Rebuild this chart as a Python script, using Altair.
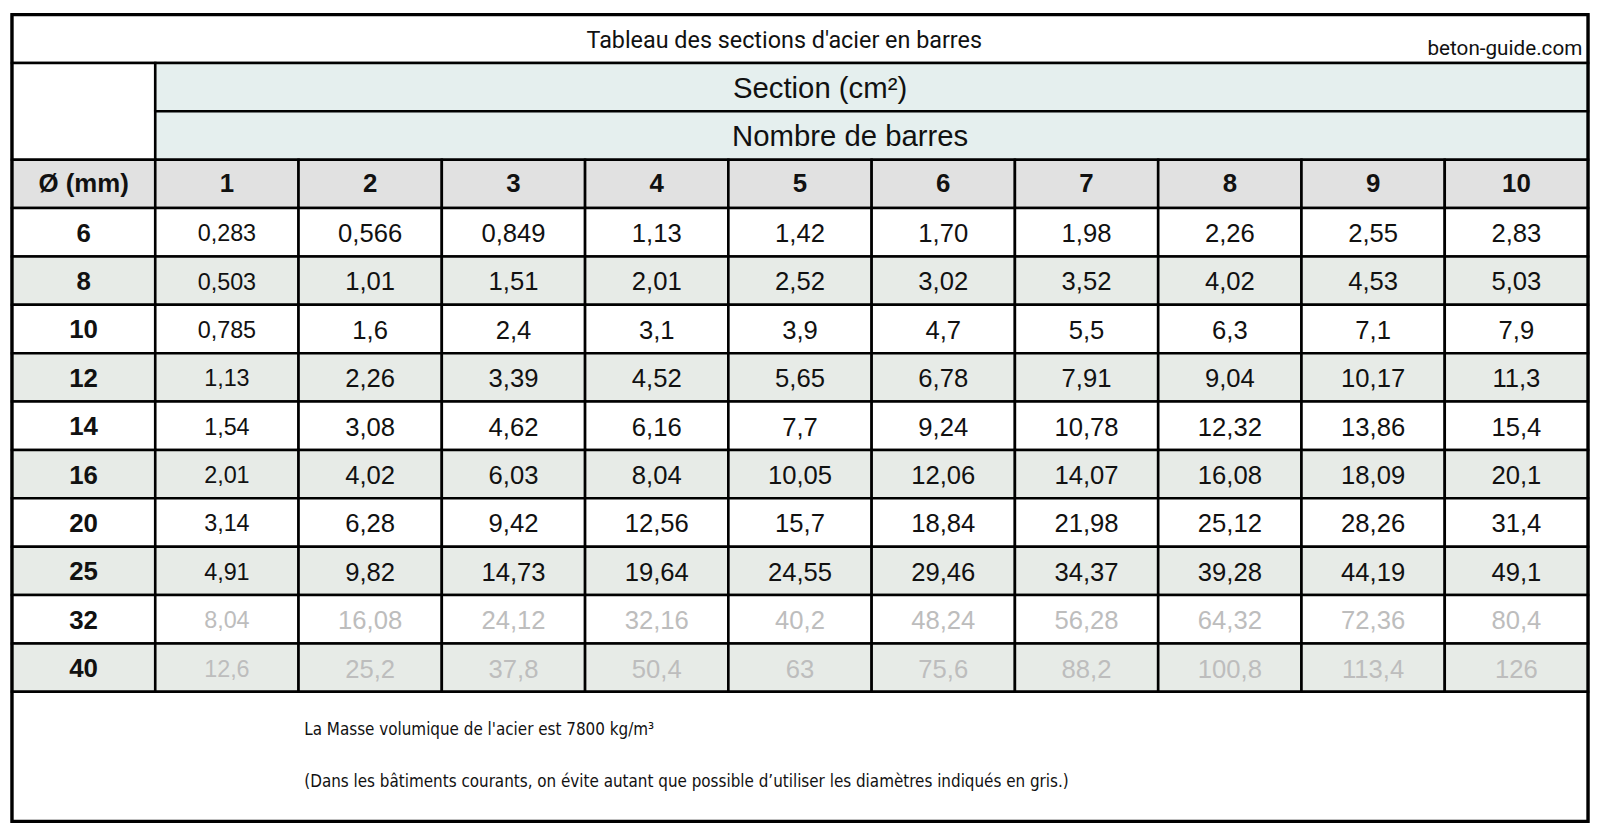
import altair as alt
import pandas as pd

# ---------------- data ----------------
title = "Tableau des sections d'acier en barres"
site = "beton-guide.com"
section_label = "Section (cm²)"
nombre_label = "Nombre de barres"
diam_header = "Ø (mm)"
counts = ["1", "2", "3", "4", "5", "6", "7", "8", "9", "10"]
diameters = ["6", "8", "10", "12", "14", "16", "20", "25", "32", "40"]
grey_diameters = ["32", "40"]

row_6 = ["0,283", "0,566", "0,849", "1,13", "1,42", "1,70", "1,98", "2,26", "2,55", "2,83"]
row_8 = ["0,503", "1,01", "1,51", "2,01", "2,52", "3,02", "3,52", "4,02", "4,53", "5,03"]
row_10 = ["0,785", "1,6", "2,4", "3,1", "3,9", "4,7", "5,5", "6,3", "7,1", "7,9"]
row_12 = ["1,13", "2,26", "3,39", "4,52", "5,65", "6,78", "7,91", "9,04", "10,17", "11,3"]
row_14 = ["1,54", "3,08", "4,62", "6,16", "7,7", "9,24", "10,78", "12,32", "13,86", "15,4"]
row_16 = ["2,01", "4,02", "6,03", "8,04", "10,05", "12,06", "14,07", "16,08", "18,09", "20,1"]
row_20 = ["3,14", "6,28", "9,42", "12,56", "15,7", "18,84", "21,98", "25,12", "28,26", "31,4"]
row_25 = ["4,91", "9,82", "14,73", "19,64", "24,55", "29,46", "34,37", "39,28", "44,19", "49,1"]
row_32 = ["8,04", "16,08", "24,12", "32,16", "40,2", "48,24", "56,28", "64,32", "72,36", "80,4"]
row_40 = ["12,6", "25,2", "37,8", "50,4", "63", "75,6", "88,2", "100,8", "113,4", "126"]
values = [row_6, row_8, row_10, row_12, row_14, row_16, row_20, row_25, row_32, row_40]

note_1 = "La Masse volumique de l'acier est 7800 kg/m³"
note_2 = "(Dans les bâtiments courants, on évite autant que possible d’utiliser les diamètres indiqués en gris.)"

# ---------------- layout (in table units: columns / rows) ----------------
NCOL = 11
FOOT = 2.68
TOTAL_ROWS = 14 + FOOT

WHITE = "#ffffff"
TEAL = "#e5efee"
HEAD = "#e1e1e1"
BAND = "#e7ebe7"
BLACK = "#111111"
GREY = "#bdbdbd"

cells = []
def cell(x0, x1, y0, y1, fill):
    cells.append(dict(x0=x0, x1=x1, y0=y0, y1=y1, fill=fill))

cell(0, NCOL, 0, 1, WHITE)          # title row
cell(0, 1, 1, 3, WHITE)             # empty corner
cell(1, NCOL, 1, 2, TEAL)           # Section
cell(1, NCOL, 2, 3, TEAL)           # Nombre de barres
for c in range(NCOL):
    cell(c, c + 1, 3, 4, HEAD)
for r in range(len(diameters)):
    fill = BAND if r % 2 == 1 else WHITE
    for c in range(NCOL):
        cell(c, c + 1, 4 + r, 5 + r, fill)
cell(0, NCOL, 14, 14 + FOOT, WHITE)  # footer
cells_df = pd.DataFrame(cells)

bold_txt = [dict(x=0.5, y=3.5, t=diam_header)]
bold_txt += [dict(x=c + 1.5, y=3.5, t=lab) for c, lab in enumerate(counts)]
bold_txt += [dict(x=0.5, y=4.53 + r, t=d) for r, d in enumerate(diameters)]
bold_df = pd.DataFrame(bold_txt)

val_txt = []
for r, d in enumerate(diameters):
    for c, v in enumerate(values[r]):
        val_txt.append(dict(x=c + 1.5, y=4.54 + r, t=v,
                            col=GREY if d in grey_diameters else BLACK,
                            sz=23.5 if c == 0 else 25.8))
val_df = pd.DataFrame(val_txt)

W, H = 1586, 812
xs = alt.Scale(domain=[0, NCOL], range=[0, W])
ys = alt.Scale(domain=[0, TOTAL_ROWS], range=[0, H])
X = lambda f: alt.X(f, type="quantitative", scale=xs, axis=None)
Y = lambda f: alt.Y(f, type="quantitative", scale=ys, axis=None)

rects = alt.Chart(cells_df).mark_rect(stroke="#000000", strokeWidth=2.6).encode(
    x=X("x0"), x2="x1", y=Y("y0"), y2="y1",
    fill=alt.Fill("fill:N", scale=None),
)
outer = alt.Chart(pd.DataFrame([dict(x0=0, x1=NCOL, y0=0, y1=TOTAL_ROWS)])).mark_rect(
    fill=None, stroke="#000000", strokeWidth=3.2
).encode(x=X("x0"), x2="x1", y=Y("y0"), y2="y1")

def text_layer(df, **kw):
    return alt.Chart(df).mark_text(baseline="middle", **kw)

title_l = text_layer(pd.DataFrame([dict(x=5.39, y=0.55, t=title)]),
                     font="Roboto", fontSize=23.5, color=BLACK).encode(x=X("x"), y=Y("y"), text="t:N")
site_l = text_layer(pd.DataFrame([dict(x=10.96, y=0.72, t=site)]),
                    font="Roboto", fontSize=20.8, color=BLACK, align="right").encode(x=X("x"), y=Y("y"), text="t:N")
head_l = text_layer(pd.DataFrame([dict(x=5.64, y=1.53, t=section_label),
                                  dict(x=5.85, y=2.53, t=nombre_label)]),
                    font="Liberation Sans", fontSize=29.5, color=BLACK).encode(x=X("x"), y=Y("y"), text="t:N")
bold_l = text_layer(bold_df, font="Liberation Sans", fontSize=26, fontWeight="bold",
                    color=BLACK).encode(x=X("x"), y=Y("y"), text="t:N")
val_l = text_layer(val_df, font="Liberation Sans").encode(
    x=X("x"), y=Y("y"), text="t:N",
    color=alt.Color("col:N", scale=None),
    size=alt.Size("sz:Q", scale=None),
)
foot_l = text_layer(pd.DataFrame([dict(x=2.04, y=14.8, t=note_1),
                                  dict(x=2.04, y=15.87, t=note_2)]),
                    font="Liberation Sans Narrow, DejaVu Sans Condensed, Roboto", fontSize=17,
                    color=BLACK, align="left").encode(x=X("x"), y=Y("y"), text="t:N")

chart = alt.layer(rects, outer, title_l, site_l, head_l, bold_l, val_l, foot_l).properties(
    width=W, height=H, padding=2, background="#ffffff"
).configure_view(stroke=None)

chart.save("out.html", embed_options={"renderer": "svg", "actions": False})
